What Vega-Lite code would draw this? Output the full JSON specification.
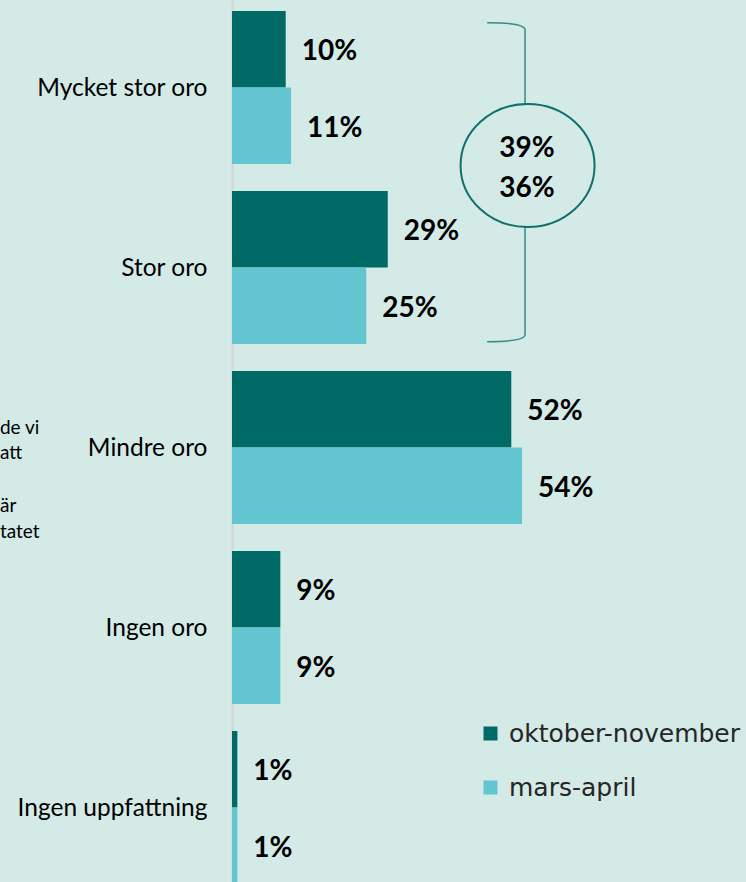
{
  "$schema": "https://vega.github.io/schema/vega-lite/v6.json",
  "width": 514,
  "height": 895,
  "autosize": {"type": "none"},
  "padding": {"left": 232, "top": 0, "right": 0, "bottom": 0},
  "background": "#d3eae7",
  "config": {"view": {"stroke": null}, "font": "Lato"},
  "datasets": {
    "bars": [
      {"category": "Mycket stor oro", "period": "oktober-november", "value": 0.10},
      {"category": "Mycket stor oro", "period": "mars-april", "value": 0.11},
      {"category": "Stor oro", "period": "oktober-november", "value": 0.29},
      {"category": "Stor oro", "period": "mars-april", "value": 0.25},
      {"category": "Mindre oro", "period": "oktober-november", "value": 0.52},
      {"category": "Mindre oro", "period": "mars-april", "value": 0.54},
      {"category": "Ingen oro", "period": "oktober-november", "value": 0.09},
      {"category": "Ingen oro", "period": "mars-april", "value": 0.09},
      {"category": "Ingen uppfattning", "period": "oktober-november", "value": 0.01},
      {"category": "Ingen uppfattning", "period": "mars-april", "value": 0.01}
    ],
    "one": [{}]
  },
  "encoding": {
    "y": {
      "field": "category",
      "type": "nominal",
      "sort": null,
      "scale": {
        "domain": ["Mycket stor oro", "Stor oro", "Mindre oro", "Ingen oro", "Ingen uppfattning"],
        "paddingInner": 0.15,
        "paddingOuter": 0.061
      },
      "axis": {
        "title": null,
        "ticks": false,
        "domainColor": "#d4d4d4",
        "domainWidth": 2,
        "labelFont": "Lato",
        "labelFontSize": 24.5,
        "labelColor": "#000000",
        "labelPadding": 25,
        "labelOffset": 1.5,
        "labelLimit": 400
      }
    }
  },
  "layer": [
    {
      "data": {"name": "bars"},
      "mark": {"type": "bar"},
      "encoding": {
        "x": {"field": "value", "type": "quantitative", "scale": {"domain": [0, 0.957], "nice": false, "zero": true}, "axis": null},
        "yOffset": {"field": "period", "type": "nominal", "sort": null, "scale": {"domain": ["oktober-november", "mars-april"], "paddingInner": 0, "paddingOuter": 0}},
        "color": {
          "field": "period",
          "type": "nominal",
          "sort": null,
          "scale": {"domain": ["oktober-november", "mars-april"], "range": ["#006a67", "#63c5cf"]},
          "legend": {
            "orient": "none",
            "legendX": 246,
            "legendY": 721,
            "title": null,
            "padding": 0,
            "symbolType": "square",
            "symbolSize": 196,
            "symbolStrokeWidth": 0,
            "symbolOpacity": 1,
            "labelFont": "DejaVu Sans",
            "labelFontSize": 25,
            "labelColor": "#262626",
            "labelOffset": 6,
            "rowPadding": 28,
            "labelLimit": 400
          }
        }
      }
    },
    {
      "data": {"name": "bars"},
      "mark": {"type": "text", "align": "left", "baseline": "middle", "dx": 16, "dy": 3, "font": "Lato", "fontWeight": "bold", "fontSize": 28, "color": "#000000"},
      "encoding": {
        "x": {"field": "value", "type": "quantitative"},
        "yOffset": {"field": "period", "type": "nominal", "sort": null},
        "text": {"field": "value", "type": "quantitative", "format": ".0%"}
      }
    },
    {
      "data": {"name": "one"},
      "mark": {
        "type": "point",
        "shape": "M -0.2375 -1 C -0.1 -1 0 -0.99 0 -0.955 L 0 0.955 C 0 0.99 -0.1 1 -0.2375 1",
        "filled": false,
        "stroke": "#338c88",
        "strokeWidth": 1.5,
        "opacity": 1,
        "size": 101761,
        "yOffset": 94.7
      },
      "encoding": {
        "x": {"datum": 0.5456, "type": "quantitative"},
        "y": {"datum": "Mycket stor oro"}
      }
    },
    {
      "data": {"name": "one"},
      "mark": {
        "type": "point",
        "shape": "M -1 0 A 1 0.918 0 1 0 1 0 A 1 0.918 0 1 0 -1 0 Z",
        "filled": true,
        "fill": "#d3eae7",
        "stroke": "#10706c",
        "strokeWidth": 2,
        "opacity": 1,
        "size": 17956,
        "yOffset": 78
      },
      "encoding": {
        "x": {"datum": 0.5503, "type": "quantitative"},
        "y": {"datum": "Mycket stor oro"}
      }
    },
    {
      "data": {"name": "one"},
      "mark": {"type": "text", "text": ["39%", "36%"], "lineHeight": 40, "align": "center", "baseline": "middle", "font": "Lato", "fontWeight": "bold", "fontSize": 28, "color": "#000000", "yOffset": 61.5},
      "encoding": {
        "x": {"datum": 0.549, "type": "quantitative"},
        "y": {"datum": "Mycket stor oro"}
      }
    },
    {
      "data": {"name": "one"},
      "mark": {"type": "text", "text": ["de vi", "att"], "lineHeight": 25, "align": "left", "baseline": "middle", "font": "Lato", "fontSize": 19, "color": "#000000", "yOffset": -19.5},
      "encoding": {
        "x": {"datum": -0.432, "type": "quantitative"},
        "y": {"datum": "Mindre oro"}
      }
    },
    {
      "data": {"name": "one"},
      "mark": {"type": "text", "text": ["är", "tatet"], "lineHeight": 26, "align": "left", "baseline": "middle", "font": "Lato", "fontSize": 19, "color": "#000000", "yOffset": 58.5, "dx": 0},
      "encoding": {
        "x": {"datum": -0.432, "type": "quantitative"},
        "y": {"datum": "Mindre oro"}
      }
    }
  ]
}
